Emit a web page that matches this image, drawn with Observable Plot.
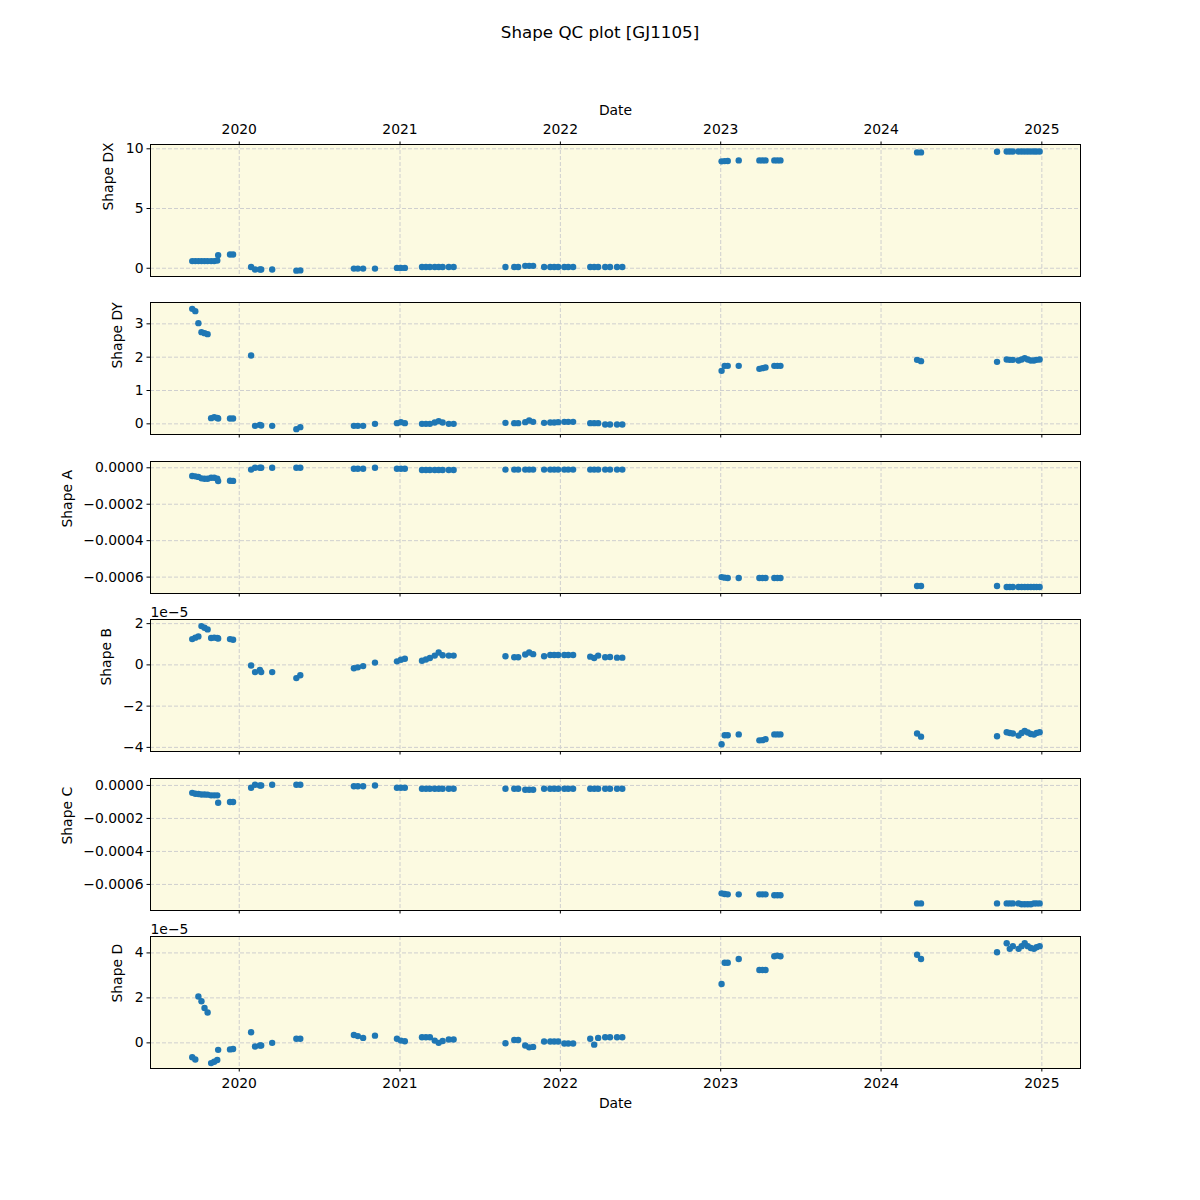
<!DOCTYPE html>
<html><head><meta charset="utf-8">
<script src="https://cdn.jsdelivr.net/npm/d3@7"></script>
<script src="https://cdn.jsdelivr.net/npm/@observablehq/plot@0.6"></script>
<style>
body{margin:0;background:#fff;font-family:"DejaVu Sans",sans-serif;}
#root{position:relative;width:1200px;height:1200px;overflow:hidden;}
#title{position:absolute;top:22px;left:0;width:1200px;text-align:center;font-size:16.7px;color:#000;}
</style></head>
<body><div id="root"><div id="title">Shape QC plot [GJ1105]</div></div>
<script>
// observation dates
const dates = [
"2019-09-16","2019-09-23","2019-09-30","2019-10-07","2019-10-14","2019-10-21","2019-10-29","2019-11-05","2019-11-12","2019-11-14",
"2019-12-11","2019-12-18","2020-01-28","2020-02-06","2020-02-17","2020-02-20","2020-03-16","2020-05-10","2020-05-19","2020-09-18",
"2020-09-27","2020-10-09","2020-11-05","2020-12-25","2021-01-03","2021-01-12","2021-02-20","2021-03-01","2021-03-10","2021-03-21",
"2021-03-30","2021-04-08","2021-04-22","2021-05-03","2021-08-29","2021-09-18","2021-09-27","2021-10-13","2021-10-22","2021-10-31",
"2021-11-25","2021-12-09","2021-12-18","2021-12-27","2022-01-10","2022-01-19","2022-01-30","2022-03-10","2022-03-19","2022-03-28",
"2022-04-13","2022-04-24","2022-05-10","2022-05-22","2023-01-03","2023-01-10","2023-01-17","2023-02-11","2023-03-30","2023-04-06",
"2023-04-13","2023-05-03","2023-05-10","2023-05-17","2024-03-23","2024-04-01","2024-09-21","2024-10-13","2024-10-20","2024-10-27",
"2024-11-09","2024-11-16","2024-11-23","2024-11-30","2024-12-07","2024-12-14","2024-12-20","2024-12-27"];

const shapeDX = [
0.6,0.6,0.6,0.6,0.6,0.6,0.6,0.6,0.65,1.1,
1.15,1.15,0.1,-0.1,-0.1,-0.1,-0.1,-0.2,-0.18,-0.03,
-0.03,-0.03,-0.03,0.03,0.03,0.03,0.1,0.1,0.1,0.1,
0.1,0.1,0.1,0.1,0.1,0.1,0.1,0.2,0.2,0.2,
0.1,0.1,0.1,0.1,0.1,0.1,0.1,0.1,0.1,0.1,
0.1,0.1,0.1,0.1,8.95,8.97,8.98,9.03,9.03,9.03,
9.03,9.03,9.03,9.03,9.7,9.7,9.75,9.78,9.78,9.78,
9.78,9.78,9.78,9.78,9.78,9.78,9.78,9.78];

const shapeDY = [
3.45,3.38,3.02,2.75,2.72,2.69,0.17,0.2,0.18,0.16,
0.16,0.16,2.05,-0.06,-0.03,-0.05,-0.06,-0.16,-0.1,-0.06,
-0.06,-0.06,0,0.02,0.05,0.02,0,0,0,0.04,
0.08,0.04,0,0,0.03,0.02,0.02,0.05,0.1,0.06,
0.03,0.04,0.04,0.05,0.06,0.06,0.06,0.02,0.02,0.02,
-0.02,-0.02,-0.02,-0.02,1.59,1.74,1.74,1.74,1.65,1.67,
1.69,1.74,1.74,1.74,1.92,1.88,1.86,1.93,1.92,1.92,
1.9,1.93,1.97,1.93,1.9,1.9,1.92,1.93];

const shapeA = [
-0.000045,-0.000047,-0.00005,-0.000058,-0.00006,-0.00006,-0.000055,-0.000055,-0.00006,-0.000073,
-0.000071,-0.000072,-0.00001,0,0,0,0,0,0,-0.000005,
-0.000005,-0.000005,0,-0.000005,-0.000005,-0.000005,-0.000012,-0.000012,-0.000012,-0.000012,
-0.000012,-0.000012,-0.000012,-0.000012,-0.00001,-0.00001,-0.00001,-0.00001,-0.00001,-0.00001,
-0.00001,-0.00001,-0.00001,-0.00001,-0.00001,-0.00001,-0.00001,-0.00001,-0.00001,-0.00001,
-0.00001,-0.00001,-0.00001,-0.00001,-0.0006,-0.000603,-0.000605,-0.000605,-0.000605,-0.000605,
-0.000605,-0.000605,-0.000605,-0.000605,-0.000649,-0.000649,-0.000649,-0.000654,-0.000654,-0.000654,
-0.000654,-0.000654,-0.000654,-0.000654,-0.000654,-0.000654,-0.000654,-0.000654];

// Shape B in units of 1e-5
const shapeB = [
1.25,1.32,1.38,1.88,1.8,1.72,1.3,1.32,1.3,1.28,
1.25,1.22,-0.03,-0.35,-0.24,-0.35,-0.35,-0.64,-0.5,-0.16,
-0.12,-0.06,0.11,0.17,0.25,0.3,0.2,0.26,0.33,0.45,
0.6,0.47,0.45,0.45,0.42,0.37,0.37,0.5,0.6,0.52,
0.42,0.48,0.48,0.48,0.48,0.48,0.48,0.4,0.33,0.45,
0.37,0.38,0.35,0.35,-3.85,-3.41,-3.41,-3.37,-3.66,-3.65,
-3.6,-3.37,-3.37,-3.37,-3.33,-3.48,-3.46,-3.27,-3.3,-3.33,
-3.43,-3.3,-3.2,-3.28,-3.35,-3.38,-3.3,-3.27];

const shapeC = [
-0.000045,-0.00005,-0.000052,-0.000055,-0.000055,-0.000056,-0.00006,-0.00006,-0.00006,-0.000105,
-0.0001,-0.0001,-0.000014,0.000004,0,0,0.000004,0.000004,0.000004,-0.000005,
-0.000005,-0.000005,0,-0.000014,-0.000014,-0.000014,-0.00002,-0.00002,-0.00002,-0.00002,
-0.00002,-0.00002,-0.00002,-0.00002,-0.00002,-0.00002,-0.00002,-0.000026,-0.000026,-0.000026,
-0.00002,-0.00002,-0.00002,-0.00002,-0.00002,-0.00002,-0.00002,-0.00002,-0.00002,-0.00002,
-0.00002,-0.00002,-0.00002,-0.00002,-0.000654,-0.000658,-0.00066,-0.00066,-0.00066,-0.00066,
-0.00066,-0.000666,-0.000666,-0.000666,-0.000715,-0.000715,-0.000715,-0.000715,-0.000715,-0.000715,
-0.000715,-0.00072,-0.00072,-0.00072,-0.00072,-0.000715,-0.000715,-0.000715];

// Shape D in units of 1e-5
const shapeD = [
-0.64,-0.74,2.06,1.85,1.55,1.35,-0.9,-0.84,-0.76,-0.31,
-0.29,-0.27,0.47,-0.16,-0.12,-0.12,0,0.18,0.18,0.35,
0.3,0.22,0.32,0.18,0.1,0.07,0.25,0.25,0.25,0.1,
0,0.08,0.15,0.15,-0.02,0.13,0.13,-0.12,-0.2,-0.18,
0.06,0.06,0.06,0.06,-0.03,-0.03,-0.03,0.18,-0.08,0.22,
0.25,0.25,0.25,0.25,2.62,3.56,3.56,3.73,3.24,3.24,
3.24,3.85,3.88,3.85,3.92,3.73,4.03,4.43,4.18,4.3,
4.18,4.3,4.43,4.3,4.22,4.18,4.25,4.3];

const yearTicks = ["2020-01-01","2021-01-01","2022-01-01","2023-01-01","2024-01-01","2025-01-01"];
const ticksDX = [0, 5, 10];
const ticksDY = [0, 1, 2, 3];
const ticksA = [0, -0.0002, -0.0004, -0.0006];
const ticksB = [2, 0, -2, -4];
const ticksC = [0, -0.0002, -0.0004, -0.0006];
const ticksD = [0, 2, 4];

const parse = d3.utcParse("%Y-%m-%d");
const rows = dates.map((d, i) => ({
  date: parse(d), dx: shapeDX[i], dy: shapeDY[i], a: shapeA[i],
  b: shapeB[i], c: shapeC[i], d: shapeD[i]
}));
const years = yearTicks.map(parse);

const minus = s => s.replace("-", "\u2212");
const fmtInt = v => minus(String(Math.round(v)));
const fmt4 = v => minus((Math.abs(v) < 1e-12 ? 0 : v).toFixed(4));

const panels = [
  {key: "dx", label: "Shape DX", ticks: ticksDX, fmt: fmtInt, domain: [-0.69, 10.36], labelDx: -42},
  {key: "dy", label: "Shape DY", ticks: ticksDY, fmt: fmtInt, domain: [-0.32, 3.64], labelDx: -33},
  {key: "a", label: "Shape A", ticks: ticksA, fmt: fmt4, domain: [-0.00069, 0.0000345], labelDx: -83},
  {key: "b", label: "Shape B", ticks: ticksB, fmt: fmtInt, domain: [-4.2, 2.2], labelDx: -44, offset: true},
  {key: "c", label: "Shape C", ticks: ticksC, fmt: fmt4, domain: [-0.000758, 0.000042], labelDx: -83},
  {key: "d", label: "Shape D", ticks: ticksD, fmt: fmtInt, domain: [-1.14, 4.73], labelDx: -33, offset: true}
];

const bg = "#fcfae1";
const gridColor = "#cfcfcf";
const fs = 13.9;
const frameTops = [144, 302.4, 460.8, 619.2, 777.6, 936];
const frameH = 132;
const root = document.getElementById("root");

panels.forEach((p, idx) => {
  const first = idx === 0, last = idx === panels.length - 1;
  const mt = first ? 60 : 24;
  const mb = last ? 50 : 10;
  const marks = [
    Plot.frame({fill: bg, stroke: "none"}),
    Plot.gridX(years, {stroke: gridColor, strokeOpacity: 1, strokeWidth: 1, strokeDasharray: "4,2"}),
    Plot.gridY(p.ticks, {stroke: gridColor, strokeOpacity: 1, strokeWidth: 1, strokeDasharray: "4,2"}),
    Plot.dot(rows, {x: "date", y: p.key, r: 3.2, fill: "#1f77b4", stroke: "none"}),
    Plot.frame({stroke: "#000", strokeWidth: 1}),
    Plot.axisY(p.ticks, {anchor: "left", tickSize: 3.5, tickPadding: 3.5, tickFormat: p.fmt, label: null}),
    Plot.text([p.label], {frameAnchor: "left", dx: p.labelDx, rotate: -90, fontSize: fs})
  ];
  if (first) {
    marks.push(Plot.axisX(years, {anchor: "top", tickSize: 3.5, tickPadding: 7, tickFormat: d3.utcFormat("%Y"), label: null}));
    marks.push(Plot.text(["Date"], {frameAnchor: "top", dy: -34, lineAnchor: "middle", fontSize: fs}));
  } else if (last) {
    marks.push(Plot.axisX(years, {anchor: "bottom", tickSize: 3.5, tickPadding: 6, tickFormat: d3.utcFormat("%Y"), label: null}));
    marks.push(Plot.text(["Date"], {frameAnchor: "bottom", dy: 35, lineAnchor: "middle", fontSize: fs}));
  } else {
    marks.push(Plot.axisX(years, {anchor: "bottom", tickSize: 3.5, tickFormat: () => "", label: null}));
  }
  if (p.offset) {
    marks.push(Plot.text(["1e\u22125"], {frameAnchor: "top-left", dy: -3, lineAnchor: "bottom", textAnchor: "start", fontSize: fs}));
  }
  const svg = Plot.plot({
    width: 1200,
    height: frameH + mt + mb,
    marginLeft: 150,
    marginRight: 120,
    marginTop: mt,
    marginBottom: mb,
    x: {type: "utc", domain: [parse("2019-06-13"), parse("2025-03-30")], label: null},
    y: {domain: p.domain, label: null},
    style: {fontSize: fs + "px", fontFamily: "DejaVu Sans", background: "transparent", overflow: "visible", color: "#000"},
    marks
  });
  svg.style.position = "absolute";
  svg.style.left = "0px";
  svg.style.top = (frameTops[idx] - mt) + "px";
  root.appendChild(svg);
});
</script>
</body></html>
